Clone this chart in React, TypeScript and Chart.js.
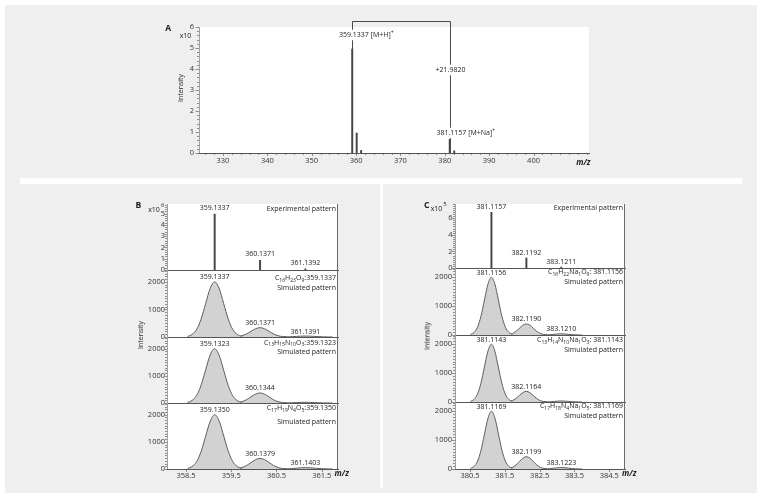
import React, { useEffect, useRef } from "react";
import { Chart, registerables } from "chart.js";
Chart.register(...registerables);

const FONT = '"Open Sans", "DejaVu Sans", sans-serif';
const INK = "#222";

// ================= DATA =================
// Panel A: full spectrum (intensity x10^6)
const aMz = [359.1337, 360.1371, 361.1392, 381.1157, 382.1192];
const aIntensity = [4.95, 0.95, 0.12, 0.65, 0.1];
const aXTicks = [330, 340, 350, 360, 370, 380, 390, 400];
const aYTicks = [0, 1, 2, 3, 4, 5, 6];
const aLabelMH = "359.1337 [M+H]^{+}";
const aLabelMNa = "381.1157 [M+Na]^{+}";
const aDelta = "+21.9820";

// shared
const peakOffsets = [-0.6, -0.5, -0.4, -0.3, -0.2, -0.1, 0, 0.1, 0.2, 0.3, 0.4, 0.5, 0.6];
const simYTicks = [0, 1000, 2000];

// Panel B: [M+H]+ isotope patterns
const bXTicks = [358.5, 359.5, 360.5, 361.5];
const bExpMz = [359.1337, 360.1371, 361.1392];
const bExpIntensity = [4.95, 0.86, 0.1]; // x10^6
const bExpLabels = ["359.1337", "360.1371", "361.1392"];
const bExpYTicks = [0, 1, 2, 3, 4, 5];

const bSim1Mz = [359.1337, 360.1371, 361.1391];
const bSim1Intensity = [
  [20, 90, 270, 650, 1210, 1760, 2000, 1760, 1210, 650, 270, 90, 20],
  [4, 15, 46, 110, 205, 298, 340, 298, 205, 110, 46, 15, 4],
  [0, 2, 5, 12, 21, 31, 35, 31, 21, 12, 5, 2, 0],
];
const bSim1Labels = ["359.1337", "360.1371", "361.1391"];
const bSim1Formula = "C_{16}H_{23}O_{9}:359.1337";

const bSim2Mz = [359.1323, 360.1344, 361.1365];
const bSim2Intensity = [
  [20, 90, 270, 650, 1210, 1760, 2000, 1760, 1210, 650, 270, 90, 20],
  [4, 16, 50, 120, 224, 326, 370, 326, 224, 120, 50, 16, 4],
  [0, 1, 3, 8, 15, 22, 25, 22, 15, 8, 3, 1, 0],
];
const bSim2Labels = ["359.1323", "360.1344", ""];
const bSim2Formula = "C_{13}H_{15}N_{10}O_{3}:359.1323";

const bSim3Mz = [359.135, 360.1379, 361.1403];
const bSim3Intensity = [
  [20, 90, 270, 650, 1210, 1760, 2000, 1760, 1210, 650, 270, 90, 20],
  [4, 17, 53, 127, 237, 344, 390, 344, 237, 127, 53, 17, 4],
  [1, 2, 7, 16, 30, 44, 50, 44, 30, 16, 7, 2, 1],
];
const bSim3Labels = ["359.1350", "360.1379", "361.1403"];
const bSim3Formula = "C_{17}H_{19}N_{4}O_{5}:359.1350";

// Panel C: [M+Na]+ isotope patterns
const cXTicks = [380.5, 381.5, 382.5, 383.5, 384.5];
const cExpMz = [381.1157, 382.1192, 383.1211];
const cExpIntensity = [6.7, 1.2, 0.12]; // x10^5
const cExpLabels = ["381.1157", "382.1192", "383.1211"];
const cExpYTicks = [0, 2, 4, 6];

const cSim1Mz = [381.1156, 382.119, 383.121];
const cSim1Intensity = [
  [20, 90, 270, 650, 1210, 1760, 2000, 1760, 1210, 650, 270, 90, 20],
  [4, 17, 52, 125, 234, 340, 385, 340, 234, 125, 52, 17, 4],
  [0, 2, 5, 13, 24, 35, 40, 35, 24, 13, 5, 2, 0],
];
const cSim1Labels = ["381.1156", "382.1190", "383.1210"];
const cSim1Formula = "C_{16}H_{22}Na_{1}O_{9}: 381.1156";

const cSim2Mz = [381.1143, 382.1164, 383.1185];
const cSim2Intensity = [
  [20, 90, 270, 650, 1210, 1760, 2000, 1760, 1210, 650, 270, 90, 20],
  [4, 16, 50, 120, 224, 326, 370, 326, 224, 120, 50, 16, 4],
  [0, 2, 5, 11, 21, 31, 35, 31, 21, 11, 5, 2, 0],
];
const cSim2Labels = ["381.1143", "382.1164", ""];
const cSim2Formula = "C_{13}H_{14}N_{10}Na_{1}O_{3}: 381.1143";

const cSim3Mz = [381.1169, 382.1199, 383.1223];
const cSim3Intensity = [
  [20, 90, 270, 650, 1210, 1760, 2000, 1760, 1210, 650, 270, 90, 20],
  [5, 19, 58, 138, 258, 375, 425, 375, 258, 138, 58, 19, 5],
  [1, 2, 7, 16, 30, 44, 50, 44, 30, 16, 7, 2, 1],
];
const cSim3Labels = ["381.1169", "382.1199", "383.1223"];
const cSim3Formula = "C_{17}H_{18}N_{4}Na_{1}O_{5}: 381.1169";

// ================= DRAW HELPERS =================
function drawRich(
  ctx: CanvasRenderingContext2D,
  text: string,
  x: number,
  y: number,
  align: "left" | "right" | "center",
  size: number,
  bg = false
) {
  const parts: { t: string; k: string }[] = [];
  const re = /([_^])\{([^}]*)\}/g;
  let last = 0;
  let m: RegExpExecArray | null;
  while ((m = re.exec(text))) {
    if (m.index > last) parts.push({ t: text.slice(last, m.index), k: "" });
    parts.push({ t: m[2], k: m[1] });
    last = re.lastIndex;
  }
  if (last < text.length) parts.push({ t: text.slice(last), k: "" });
  const main = `${size}px ${FONT}`;
  const small = `${size * 0.72}px ${FONT}`;
  let total = 0;
  parts.forEach((p) => {
    ctx.font = p.k ? small : main;
    total += ctx.measureText(p.t).width;
  });
  let cx = align === "right" ? x - total : align === "center" ? x - total / 2 : x;
  if (bg) {
    ctx.fillStyle = "#fff";
    ctx.fillRect(cx - 1, y - size * 0.75, total + 2, size * 1.5);
  }
  ctx.fillStyle = INK;
  ctx.textAlign = "left";
  ctx.textBaseline = "middle";
  parts.forEach((p) => {
    ctx.font = p.k ? small : main;
    const dy = p.k === "_" ? size * 0.32 : p.k === "^" ? -size * 0.38 : 0;
    ctx.fillText(p.t, cx, y + dy);
    cx += ctx.measureText(p.t).width;
  });
}

type Panel = {
  l: number; t: number; r: number; b: number;
  padL: number; padT: number; padR: number; padB: number;
  xMin: number; xMax: number; xTicks?: number[]; xMinor?: number; xPad?: number;
  yMax: number; yTicks: number[]; yMinor: number; yPad: number;
  sticks?: { mz: number[]; int: number[] };
  sims?: { mz: number[]; int: number[][] };
  peakLabels?: string[]; labelGap?: number;
  lines?: { text: string; dy: number }[];
  rightBorder?: boolean;
  annotateA?: boolean;
};

function PanelChart({ p }: { p: Panel }) {
  const ref = useRef<HTMLCanvasElement>(null);
  const W = p.padL + (p.r - p.l) + p.padR;
  const H = p.padT + (p.b - p.t) + p.padB;

  useEffect(() => {
    const datasets: any[] = [];
    if (p.sims) {
      p.sims.mz.forEach((c, k) => {
        datasets.push({
          type: "line",
          data: peakOffsets.map((o, i) => ({ x: c + o, y: p.sims!.int[k][i] })),
          fill: "origin",
          backgroundColor: "#d2d2d2",
          borderColor: "#5e5e5e",
          borderWidth: 1,
          pointRadius: 0,
          cubicInterpolationMode: "monotone",
        });
      });
    }
    if (p.sticks) {
      datasets.push({
        type: "bar",
        data: p.sticks.mz.map((m, i) => ({ x: m, y: p.sticks!.int[i] })),
        backgroundColor: "#454545",
        barThickness: 1.3,
        borderWidth: 0,
      });
    }

    const plugin = {
      id: "panelDecor",
      afterDraw(chart: any) {
        const { ctx, chartArea: a } = chart;
        const xs = chart.scales.x;
        const ys = chart.scales.y;
        ctx.save();
        ctx.lineWidth = 1;
        // y minor + major ticks
        ctx.strokeStyle = "#8e8e8e";
        const nMinor = Math.round(p.yMax / p.yMinor);
        for (let i = 0; i <= nMinor; i++) {
          const py = Math.round(ys.getPixelForValue(i * p.yMinor)) + 0.5;
          ctx.beginPath();
          ctx.moveTo(a.left - 2, py);
          ctx.lineTo(a.left, py);
          ctx.stroke();
        }
        p.yTicks.forEach((v) => {
          const py = Math.round(ys.getPixelForValue(v)) + 0.5;
          ctx.beginPath();
          ctx.moveTo(a.left - 3.5, py);
          ctx.lineTo(a.left, py);
          ctx.stroke();
        });
        // x ticks
        if (p.xMinor) {
          const s = Math.ceil(p.xMin / p.xMinor);
          const e = Math.floor(p.xMax / p.xMinor);
          for (let k = s; k <= e; k++) {
            const px = Math.round(xs.getPixelForValue(k * p.xMinor)) + 0.5;
            ctx.beginPath();
            ctx.moveTo(px, a.bottom);
            ctx.lineTo(px, a.bottom + 2);
            ctx.stroke();
          }
        }
        if (p.xTicks) {
          p.xTicks.forEach((v) => {
            const px = Math.round(xs.getPixelForValue(v)) + 0.5;
            ctx.beginPath();
            ctx.moveTo(px, a.bottom);
            ctx.lineTo(px, a.bottom + 3);
            ctx.stroke();
          });
        }
        // baseline + right border
        ctx.strokeStyle = "#555";
        const by = Math.round(a.bottom) + 0.5;
        ctx.beginPath();
        ctx.moveTo(a.left, by);
        ctx.lineTo(a.right, by);
        ctx.stroke();
        if (p.rightBorder) {
          ctx.strokeStyle = "#6a6a6a";
          const rx = Math.round(a.right) - 0.5;
          ctx.beginPath();
          ctx.moveTo(rx, a.top);
          ctx.lineTo(rx, a.bottom);
          ctx.stroke();
        }
        // peak labels
        if (p.peakLabels) {
          p.peakLabels.forEach((t, i) => {
            if (!t) return;
            let mz = 0;
            let apex = 0;
            if (p.sticks) {
              mz = p.sticks.mz[i];
              apex = p.sticks.int[i];
            } else if (p.sims) {
              mz = p.sims.mz[i];
              apex = Math.max(...p.sims.int[i]);
            }
            drawRich(ctx, t, xs.getPixelForValue(mz), ys.getPixelForValue(apex) - (p.labelGap ?? 5), "center", 7);
          });
        }
        // right-aligned text lines
        if (p.lines) {
          p.lines.forEach((ln) => drawRich(ctx, ln.text, a.right - 2, a.top + ln.dy, "right", 7));
        }
        // panel A annotations
        if (p.annotateA) {
          const X1 = Math.round(xs.getPixelForValue(aMz[0])) + 0.5;
          const X2 = Math.round(xs.getPixelForValue(aMz[3])) + 0.5;
          const topY = Math.round(a.top) - 5.5;
          ctx.strokeStyle = "#4a4a4a";
          ctx.beginPath();
          ctx.moveTo(X1, ys.getPixelForValue(aIntensity[0]));
          ctx.lineTo(X1, topY);
          ctx.lineTo(X2, topY);
          ctx.lineTo(X2, ys.getPixelForValue(0));
          ctx.stroke();
          drawRich(ctx, aLabelMH, X1 - 13.5, a.top + 8, "left", 7, true);
          drawRich(ctx, aDelta, X2, a.top + 43, "center", 7, true);
          drawRich(ctx, aLabelMNa, X2 - 14, a.top + 106, "left", 7, true);
        }
        ctx.restore();
      },
    };

    const tickFont = { size: 7.5, family: FONT };
    const chart = new Chart(ref.current!, {
      type: "line",
      data: { datasets },
      options: {
        animation: false,
        responsive: false,
        devicePixelRatio: 1,
        events: [],
        layout: { padding: { left: 0, top: p.padT, right: p.padR, bottom: 0 } },
        plugins: { legend: { display: false }, tooltip: { enabled: false } },
        scales: {
          x: {
            type: "linear",
            min: p.xMin,
            max: p.xMax,
            offset: false,
            grid: { display: false, drawTicks: false },
            border: { display: true, color: "#555", width: 1 },
            ticks: {
              display: !!p.xTicks,
              padding: p.xPad ?? 2,
              color: "#333",
              font: tickFont,
              maxRotation: 0,
              autoSkip: false,
              callback: (v: any) => String(v),
            },
            afterBuildTicks: (s: any) => {
              if (p.xTicks) s.ticks = p.xTicks.map((v) => ({ value: v }));
            },
            afterFit: (s: any) => {
              s.height = p.padB;
            },
          },
          y: {
            type: "linear",
            min: 0,
            max: p.yMax,
            grid: { display: false, drawTicks: false },
            border: { display: true, color: "#a0a0a0", width: 1 },
            ticks: {
              padding: p.yPad,
              color: "#333",
              font: tickFont,
              autoSkip: false,
              callback: (v: any) => String(v),
            },
            afterBuildTicks: (s: any) => {
              s.ticks = p.yTicks.map((v) => ({ value: v }));
            },
            afterFit: (s: any) => {
              s.width = p.padL;
            },
          },
        },
      } as any,
      plugins: [plugin],
    });
    return () => chart.destroy();
  }, []);

  return (
    <canvas
      ref={ref}
      width={W}
      height={H}
      style={{ position: "absolute", left: p.l - p.padL, top: p.t - p.padT, width: W, height: H }}
    />
  );
}

// ================= PANELS =================
const panelA: Panel = {
  l: 199, t: 27, r: 589, b: 153, padL: 40, padT: 12, padR: 8, padB: 18,
  xMin: 324.6, xMax: 412.5, xTicks: aXTicks, xMinor: 2, xPad: 3,
  yMax: 6, yTicks: aYTicks, yMinor: 0.2, yPad: 5,
  sticks: { mz: aMz, int: aIntensity }, annotateA: true,
};

const B = { l: 167, r: 338, padL: 34, padT: 10, padR: 6, xMin: 358.08, xMax: 361.86 };
const panelsB: Panel[] = [
  {
    ...B, t: 204, b: 270, padB: 10, yMax: 5.85, yTicks: bExpYTicks, yMinor: 0.2, yPad: 2,
    sticks: { mz: bExpMz, int: bExpIntensity }, peakLabels: bExpLabels, labelGap: 6,
    lines: [{ text: "Experimental pattern", dy: 4.5 }], rightBorder: true,
  },
  {
    ...B, t: 270, b: 337, padB: 10, yMax: 2430, yTicks: simYTicks, yMinor: 100, yPad: 2,
    sims: { mz: bSim1Mz, int: bSim1Intensity }, peakLabels: bSim1Labels, labelGap: 4.5,
    lines: [{ text: bSim1Formula, dy: 8 }, { text: "Simulated pattern", dy: 17.5 }], rightBorder: true,
  },
  {
    ...B, t: 337, b: 403, padB: 10, yMax: 2430, yTicks: simYTicks, yMinor: 100, yPad: 2,
    sims: { mz: bSim2Mz, int: bSim2Intensity }, peakLabels: bSim2Labels, labelGap: 4.5,
    lines: [{ text: bSim2Formula, dy: 5.5 }, { text: "Simulated pattern", dy: 14.7 }], rightBorder: true,
  },
  {
    ...B, t: 403, b: 469, padB: 18, yMax: 2430, yTicks: simYTicks, yMinor: 100, yPad: 2,
    xTicks: bXTicks, xPad: 2,
    sims: { mz: bSim3Mz, int: bSim3Intensity }, peakLabels: bSim3Labels, labelGap: 4.5,
    lines: [{ text: bSim3Formula, dy: 5.3 }, { text: "Simulated pattern", dy: 18.5 }], rightBorder: true,
  },
];

const C = { l: 455, r: 625, padL: 34, padT: 10, padR: 6, xMin: 380.07, xMax: 384.95 };
const panelsC: Panel[] = [
  {
    ...C, t: 204, b: 268, padB: 10, yMax: 7.7, yTicks: cExpYTicks, yMinor: 0.25, yPad: 2.5,
    sticks: { mz: cExpMz, int: cExpIntensity }, peakLabels: cExpLabels, labelGap: 5,
    lines: [{ text: "Experimental pattern", dy: 3.5 }], rightBorder: true,
  },
  {
    ...C, t: 268, b: 335, padB: 10, yMax: 2320, yTicks: simYTicks, yMinor: 100, yPad: 3,
    sims: { mz: cSim1Mz, int: cSim1Intensity }, peakLabels: cSim1Labels, labelGap: 4.5,
    lines: [{ text: cSim1Formula, dy: 4.3 }, { text: "Simulated pattern", dy: 13.8 }], rightBorder: true,
  },
  {
    ...C, t: 335, b: 402, padB: 10, yMax: 2320, yTicks: simYTicks, yMinor: 100, yPad: 3,
    sims: { mz: cSim2Mz, int: cSim2Intensity }, peakLabels: cSim2Labels, labelGap: 4.5,
    lines: [{ text: cSim2Formula, dy: 5 }, { text: "Simulated pattern", dy: 15 }], rightBorder: true,
  },
  {
    ...C, t: 402, b: 469, padB: 18, yMax: 2320, yTicks: simYTicks, yMinor: 100, yPad: 3,
    xTicks: cXTicks, xPad: 2,
    sims: { mz: cSim3Mz, int: cSim3Intensity }, peakLabels: cSim3Labels, labelGap: 4.5,
    lines: [{ text: cSim3Formula, dy: 4 }, { text: "Simulated pattern", dy: 13.7 }], rightBorder: true,
  },
];

function Txt(props: {
  x: number; y: number; children: React.ReactNode; size?: number; bold?: boolean; italic?: boolean; rotate?: boolean;
}) {
  const { x, y, children, size = 7, bold = false, italic = false, rotate = false } = props;
  return (
    <div
      style={{
        position: "absolute",
        left: x,
        top: y,
        transform: `translate(-50%, -50%)${rotate ? " rotate(-90deg)" : ""}`,
        fontSize: size,
        fontWeight: bold ? 700 : 400,
        fontStyle: italic ? "italic" : "normal",
        lineHeight: 1,
        whiteSpace: "nowrap",
        color: INK,
        fontFamily: FONT,
      }}
    >
      {children}
    </div>
  );
}

const box = (l: number, t: number, w: number, h: number, bg: string) => (
  <div style={{ position: "absolute", left: l, top: t, width: w, height: h, background: bg }} />
);

export default function App() {
  return (
    <div
      style={{
        position: "fixed", left: 0, top: 0, width: 762, height: 500,
        background: "#fff", overflow: "hidden", fontFamily: FONT,
      }}
    >
      {box(5, 5, 752, 488, "#efefef")}
      {box(20, 178, 722, 6, "#fff")}
      {box(380, 184, 3, 304, "#fff")}
      {box(199, 27, 390, 126, "#fff")}
      {box(167, 204, 171, 265, "#fff")}
      {box(455, 204, 170, 265, "#fff")}

      <PanelChart p={panelA} />
      {panelsB.map((p, i) => <PanelChart key={"b" + i} p={p} />)}
      {panelsC.map((p, i) => <PanelChart key={"c" + i} p={p} />)}

      <Txt x={168.3} y={28.3} size={8.5} bold>A</Txt>
      <Txt x={185.5} y={35}>x10</Txt>
      <Txt x={180} y={88} rotate>Intensity</Txt>
      <Txt x={583.3} y={161.7} size={8} bold italic>m/z</Txt>

      <Txt x={138.3} y={205} size={8.5} bold>B</Txt>
      <Txt x={154} y={209.3}>x10</Txt>
      <Txt x={162.7} y={205} size={6}>6</Txt>
      <Txt x={140} y={335.3} rotate>Intensity</Txt>
      <Txt x={341.7} y={473.3} size={8} bold italic>m/z</Txt>

      <Txt x={426.7} y={205} size={8.5} bold>C</Txt>
      <Txt x={436.5} y={208.3}>x10</Txt>
      <Txt x={445} y={204} size={6}>5</Txt>
      <Txt x={427.3} y={335.7} rotate>Intensity</Txt>
      <Txt x={629.2} y={473.3} size={8} bold italic>m/z</Txt>
    </div>
  );
}
